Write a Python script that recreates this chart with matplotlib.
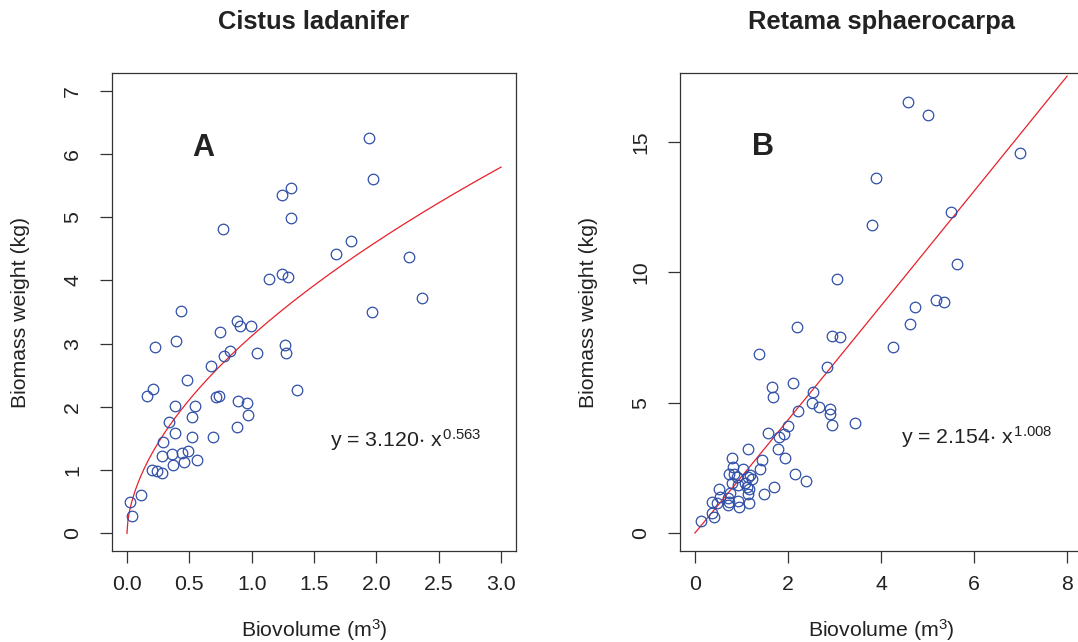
import numpy as np
import matplotlib
matplotlib.use("Agg")
import matplotlib.pyplot as plt

plt.rcParams['font.family'] = ['Liberation Sans', 'DejaVu Sans']
plt.rcParams['mathtext.fontset'] = 'custom'
plt.rcParams['mathtext.rm'] = 'Liberation Sans'
plt.rcParams['mathtext.it'] = 'Liberation Sans:italic'
plt.rcParams['mathtext.default'] = 'regular'

# Cistus ladanifer: biovolume (m3) vs biomass (kg)
cistus_vol = [1.941, 1.974, 1.317, 1.241, 1.317, 0.772, 1.800, 1.673, 2.263, 1.140,
              1.247, 1.290, 2.363, 1.963, 0.437, 0.879, 0.904, 0.995, 0.743, 0.223,
              0.392, 1.266, 1.274, 1.043, 0.826, 0.775, 0.676, 1.362, 0.480, 0.207,
              0.163, 0.711, 0.740, 0.893, 0.963, 0.971, 0.389, 0.547, 0.520, 0.338,
              0.879, 0.386, 0.523, 0.686, 0.292, 0.279, 0.360, 0.440, 0.493, 0.561,
              0.459, 0.373, 0.199, 0.239, 0.282, 0.110, 0.024, 0.040]
cistus_bio = [6.255, 5.605, 5.463, 5.357, 4.987, 4.813, 4.617, 4.417, 4.363, 4.025,
              4.099, 4.052, 3.720, 3.507, 3.513, 3.360, 3.275, 3.275, 3.190, 2.953,
              3.038, 2.979, 2.858, 2.858, 2.879, 2.805, 2.647, 2.262, 2.430, 2.282,
              2.166, 2.150, 2.166, 2.097, 2.060, 1.875, 2.008, 2.008, 1.834, 1.754,
              1.675, 1.580, 1.517, 1.521, 1.442, 1.225, 1.257, 1.268, 1.295, 1.152,
              1.130, 1.078, 0.994, 0.978, 0.946, 0.607, 0.491, 0.269]

# Retama sphaerocarpa
retama_vol = [4.571, 5.014, 6.996, 3.891, 5.508, 3.805, 5.629, 3.047, 5.172, 5.350,
              4.721, 4.621, 2.189, 2.947, 3.112, 4.256, 1.380, 2.833, 1.652, 2.118,
              1.674, 2.539, 2.525, 2.668, 2.912, 2.912, 2.954, 3.440, 2.210, 1.996,
              1.567, 1.910, 1.810, 1.781, 1.931, 1.137, 0.787, 1.438, 2.146, 2.382,
              1.695, 1.481, 1.401, 0.822, 1.036, 0.730, 0.843, 1.195, 1.144, 1.217,
              0.908, 0.800, 0.929, 1.073, 1.122, 1.165, 1.137, 1.159, 0.508, 0.751,
              0.536, 0.372, 0.715, 0.730, 0.715, 0.929, 0.944, 0.479, 0.358, 0.408,
              0.129]
retama_bio = [16.53, 16.03, 14.56, 13.60, 12.30, 11.83, 10.32, 9.73, 8.93, 8.84,
              8.67, 8.01, 7.91, 7.54, 7.50, 7.15, 6.86, 6.37, 5.59, 5.75,
              5.22, 5.39, 4.97, 4.85, 4.76, 4.56, 4.15, 4.21, 4.66, 4.11,
              3.82, 3.78, 3.68, 3.24, 2.86, 3.21, 2.87, 2.81, 2.26, 2.00,
              1.77, 1.48, 2.46, 2.54, 2.44, 2.25, 2.25, 2.22, 2.16, 2.06,
              2.16, 1.93, 1.84, 1.90, 1.77, 1.67, 1.49, 1.14, 1.67, 1.52,
              1.37, 1.20, 1.33, 1.20, 1.07, 1.24, 0.98, 1.16, 0.75, 0.62,
              0.46]

# power fits y = a * x^b
cistus_a, cistus_b = 3.120, 0.563
retama_a, retama_b = 2.154, 1.008

ink = '#222222'
pt_color = '#2f4fa8'
base = 15.3

fig = plt.figure(figsize=(10.78, 6.42), dpi=100)
axA = fig.add_axes([112 / 1078, 1 - 551 / 642, 404 / 1078, 478 / 642])
axB = fig.add_axes([680 / 1078, 1 - 551 / 642, 402 / 1078, 478 / 642])


def panel(ax, xs, ys, a, b, xmax, title, letter, letter_xy, eq_xy, xlim, ylim,
          xticks, yticks, xfmt):
    ax.plot(xs, ys, 'o', mfc='none', mec=pt_color, mew=0.9, ms=7.6, zorder=3)
    xx = np.linspace(0, xmax, 400)
    ax.plot(xx, a * xx ** b, color='#e8202a', lw=0.9, zorder=2)
    ax.set_xlim(*xlim)
    ax.set_ylim(*ylim)
    ax.set_xticks(xticks)
    ax.set_xticklabels([xfmt.format(t) for t in xticks])
    ax.set_yticks(yticks)
    ax.set_yticklabels([str(t) for t in yticks], rotation=90, va='center')
    for s in ax.spines.values():
        s.set_color('#333333')
        s.set_linewidth(0.9)
    ax.tick_params(axis='both', length=8.6, width=0.9, color='#333333',
                   labelsize=base, labelcolor=ink)
    ax.tick_params(axis='x', pad=9)
    ax.tick_params(axis='y', pad=13)
    t = ax.set_title(title, fontsize=18.4, fontweight='bold', color=ink,
                     y=1.107, pad=0)
    t.set_verticalalignment('center')
    ax.set_xlabel(r'Biovolume (m$^{3}$)', fontsize=base, color=ink, va='center')
    ax.xaxis.set_label_coords(0.5, -0.165)
    ax.set_ylabel('Biomass weight (kg)', fontsize=base, color=ink, va='center')
    ax.yaxis.set_label_coords(-92 / 404, 0.5)
    ax.text(*letter_xy, letter, fontsize=22, fontweight='bold', color=ink,
            ha='center', va='center')
    ax.text(*eq_xy, r'y = %.3f$\cdot$ x$^{\,%.3f}$' % (a, b), fontsize=base,
            color=ink, ha='left', va='center')


panel(axA, cistus_vol, cistus_bio, cistus_a, cistus_b, 3.0, 'Cistus ladanifer',
      'A', (0.61, 6.10), (1.63, 1.47), (-0.12, 3.12), (-0.28, 7.28),
      [0.0, 0.5, 1.0, 1.5, 2.0, 2.5, 3.0], list(range(0, 8)), '{:.1f}')
panel(axB, retama_vol, retama_bio, retama_a, retama_b, 8.0, 'Retama sphaerocarpa',
      'B', (1.46, 14.82), (4.44, 3.68), (-0.32, 8.32), (-0.69, 17.64),
      [0, 2, 4, 6, 8], [0, 5, 10, 15], '{:d}')

fig.savefig('out.png', dpi=100)
